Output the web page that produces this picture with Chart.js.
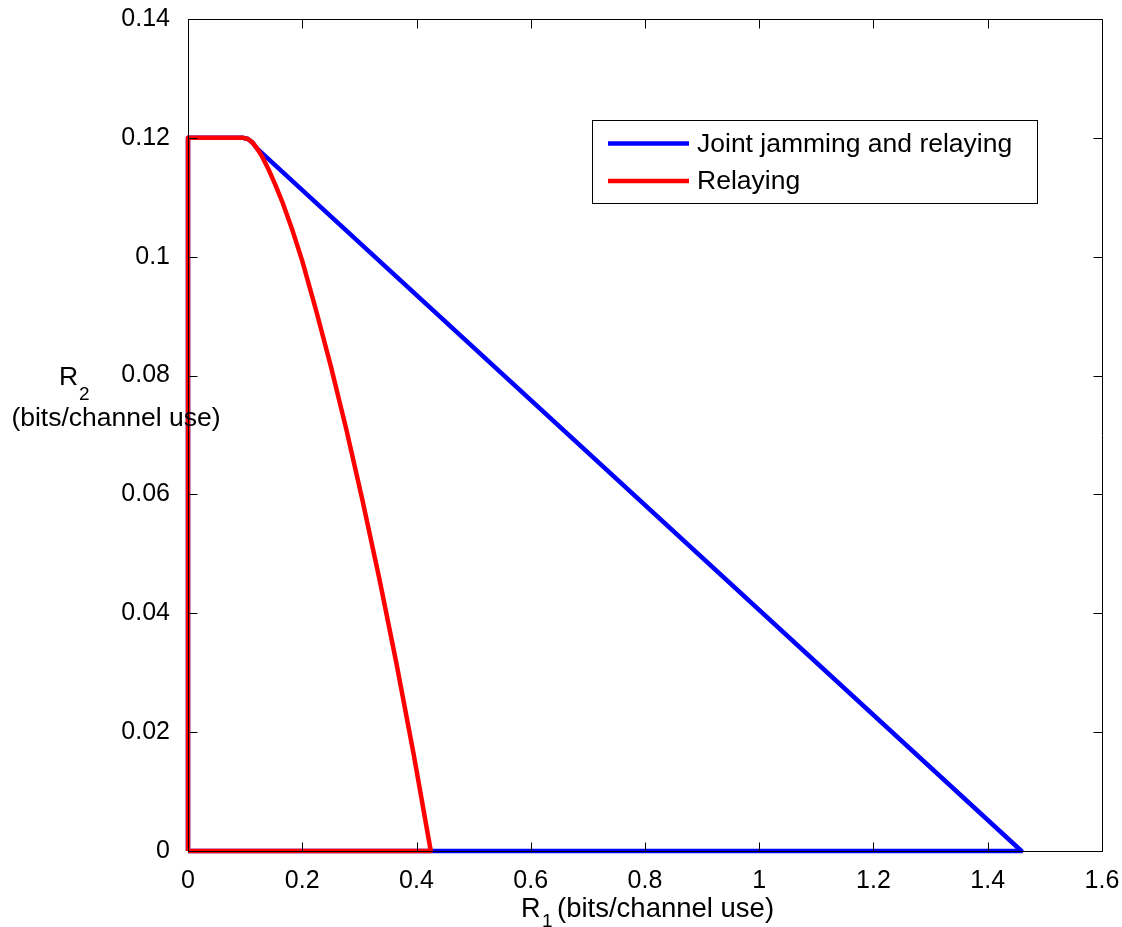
<!DOCTYPE html>
<html>
<head>
<meta charset="utf-8">
<script src="https://cdn.jsdelivr.net/npm/chart.js@4.4.0/dist/chart.umd.min.js"></script>
<style>
html,body{margin:0;padding:0;background:#fff;}
#wrap{width:1122px;height:927px;}
</style>
</head>
<body>
<div id="wrap"><canvas id="c" width="1122" height="927"></canvas></div>
<script>
// Series data (R1, R2 in bits/channel use)
const seriesLabels = ['Joint jamming and relaying', 'Relaying'];
const jointR1 = [0, 0, 0.09, 0.097, 0.105, 0.113, 0.121, 1.459, 0];
const jointR2 = [0, 0.12, 0.12, 0.1200, 0.1198, 0.1192, 0.1182, 0, 0];
const relayR1 = [0, 0, 0.09, 0.097, 0.105, 0.113, 0.121, 0.130, 0.140, 0.152, 0.166, 0.183, 0.200, 0.225, 0.250, 0.277, 0.305, 0.335, 0.365, 0.395, 0.425, 0];
const relayR2 = [0, 0.12, 0.12, 0.1200, 0.1198, 0.1192, 0.1182, 0.1168, 0.1149, 0.1123, 0.1090, 0.1044, 0.0993, 0.0907, 0.0816, 0.0710, 0.0592, 0.0458, 0.0315, 0.0163, 0, 0];
const xTicks = [0, 0.2, 0.4, 0.6, 0.8, 1, 1.2, 1.4, 1.6];
const yTicks = [0, 0.02, 0.04, 0.06, 0.08, 0.1, 0.12, 0.14];

const FONT = "'Liberation Sans', Arial, sans-serif";
const toPts = (xs, ys) => xs.map((x, i) => ({x: x, y: ys[i]}));

const framePlugin = {
  id: 'frame',
  afterDatasetsDraw(chart) {
    const ctx = chart.ctx, a = chart.chartArea;
    const xs = chart.scales.x, ys = chart.scales.y;
    ctx.save();
    ctx.strokeStyle = '#000';
    ctx.lineWidth = 1;
    ctx.beginPath();
    const L = Math.round(a.left) + 0.5, R = Math.round(a.right) + 0.5;
    const T = Math.round(a.top) + 0.5, B = Math.round(a.bottom) + 0.5;
    ctx.rect(L, T, R - L, B - T);
    const tl = 9;
    xTicks.forEach(v => {
      const px = Math.round(xs.getPixelForValue(v)) + 0.5;
      ctx.moveTo(px, B); ctx.lineTo(px, B - tl);
      ctx.moveTo(px, T); ctx.lineTo(px, T + tl);
    });
    yTicks.forEach(v => {
      const py = Math.round(ys.getPixelForValue(v)) + 0.5;
      ctx.moveTo(L, py); ctx.lineTo(L + tl, py);
      ctx.moveTo(R, py); ctx.lineTo(R - tl, py);
    });
    ctx.stroke();

    // Legend
    const lx = 592, ly = 120, lw = 445, lh = 83;
    ctx.fillStyle = '#fff';
    ctx.fillRect(lx, ly, lw, lh);
    ctx.strokeRect(lx + 0.5, ly + 0.5, lw, lh);
    const rows = [143.5, 181];
    chart.data.datasets.forEach((ds, i) => {
      ctx.strokeStyle = ds.borderColor;
      ctx.lineWidth = 4.5;
      ctx.beginPath();
      ctx.moveTo(608, rows[i]); ctx.lineTo(689, rows[i]);
      ctx.stroke();
      ctx.fillStyle = '#000';
      ctx.font = '26.5px ' + FONT;
      ctx.textBaseline = 'middle';
      ctx.textAlign = 'left';
      ctx.fillText(ds.label, 697, rows[i] + 1);
    });

    // Axis titles
    ctx.fillStyle = '#000';
    ctx.font = '26.5px ' + FONT;
    ctx.textBaseline = 'alphabetic';
    ctx.textAlign = 'left';
    // y title
    ctx.fillText('R', 59, 385);
    ctx.font = '19px ' + FONT;
    ctx.fillText('2', 79, 400);
    ctx.font = '26.5px ' + FONT;
    ctx.textAlign = 'center';
    ctx.fillText('(bits/channel use)', 116, 426);
    // x title
    ctx.textAlign = 'left';
    ctx.font = '27px ' + FONT;
    ctx.fillText('R', 521, 917);
    ctx.font = '19px ' + FONT;
    ctx.fillText('1', 542, 927);
    ctx.font = '27.5px ' + FONT;
    ctx.fillText('(bits/channel use)', 557, 917);
    ctx.restore();
  }
};

new Chart(document.getElementById('c'), {
  type: 'scatter',
  data: {
    datasets: [
      {label: seriesLabels[0], data: toPts(jointR1, jointR2), borderColor: '#0000ff', backgroundColor: '#0000ff', order: 1},
      {label: seriesLabels[1], data: toPts(relayR1, relayR2), borderColor: '#ff0000', backgroundColor: '#ff0000', order: 0}
    ]
  },
  options: {
    responsive: false,
    animation: false,
    events: [],
    showLine: true,
    clip: false,
    elements: {
      line: {borderWidth: 4.5, tension: 0, fill: false, borderJoinStyle: 'round', borderCapStyle: 'butt'},
      point: {radius: 0, hoverRadius: 0}
    },
    layout: {padding: {left: 0, right: 20, top: 19, bottom: 0}},
    plugins: {legend: {display: false}, tooltip: {enabled: false}},
    scales: {
      x: {
        type: 'linear', min: 0, max: 1.6,
        afterBuildTicks: s => { s.ticks = xTicks.map(v => ({value: v})); },
        afterFit: s => { s.height = 76; s.paddingLeft = 0; s.paddingRight = 0; },
        grid: {display: false},
        border: {display: false},
        ticks: {color: '#000', font: {family: FONT, size: 25}, padding: 7, maxRotation: 0, autoSkip: false,
          callback: v => String(+v.toFixed(2))}
      },
      y: {
        type: 'linear', min: 0, max: 0.14,
        afterBuildTicks: s => { s.ticks = yTicks.map(v => ({value: v})); },
        afterFit: s => { s.width = 188; s.paddingTop = 0; s.paddingBottom = 0; },
        grid: {display: false},
        border: {display: false},
        ticks: {color: '#000', font: {family: FONT, size: 25}, padding: 10, autoSkip: false,
          callback: v => String(+v.toFixed(2))}
      }
    }
  },
  plugins: [framePlugin]
});
</script>
</body>
</html>
